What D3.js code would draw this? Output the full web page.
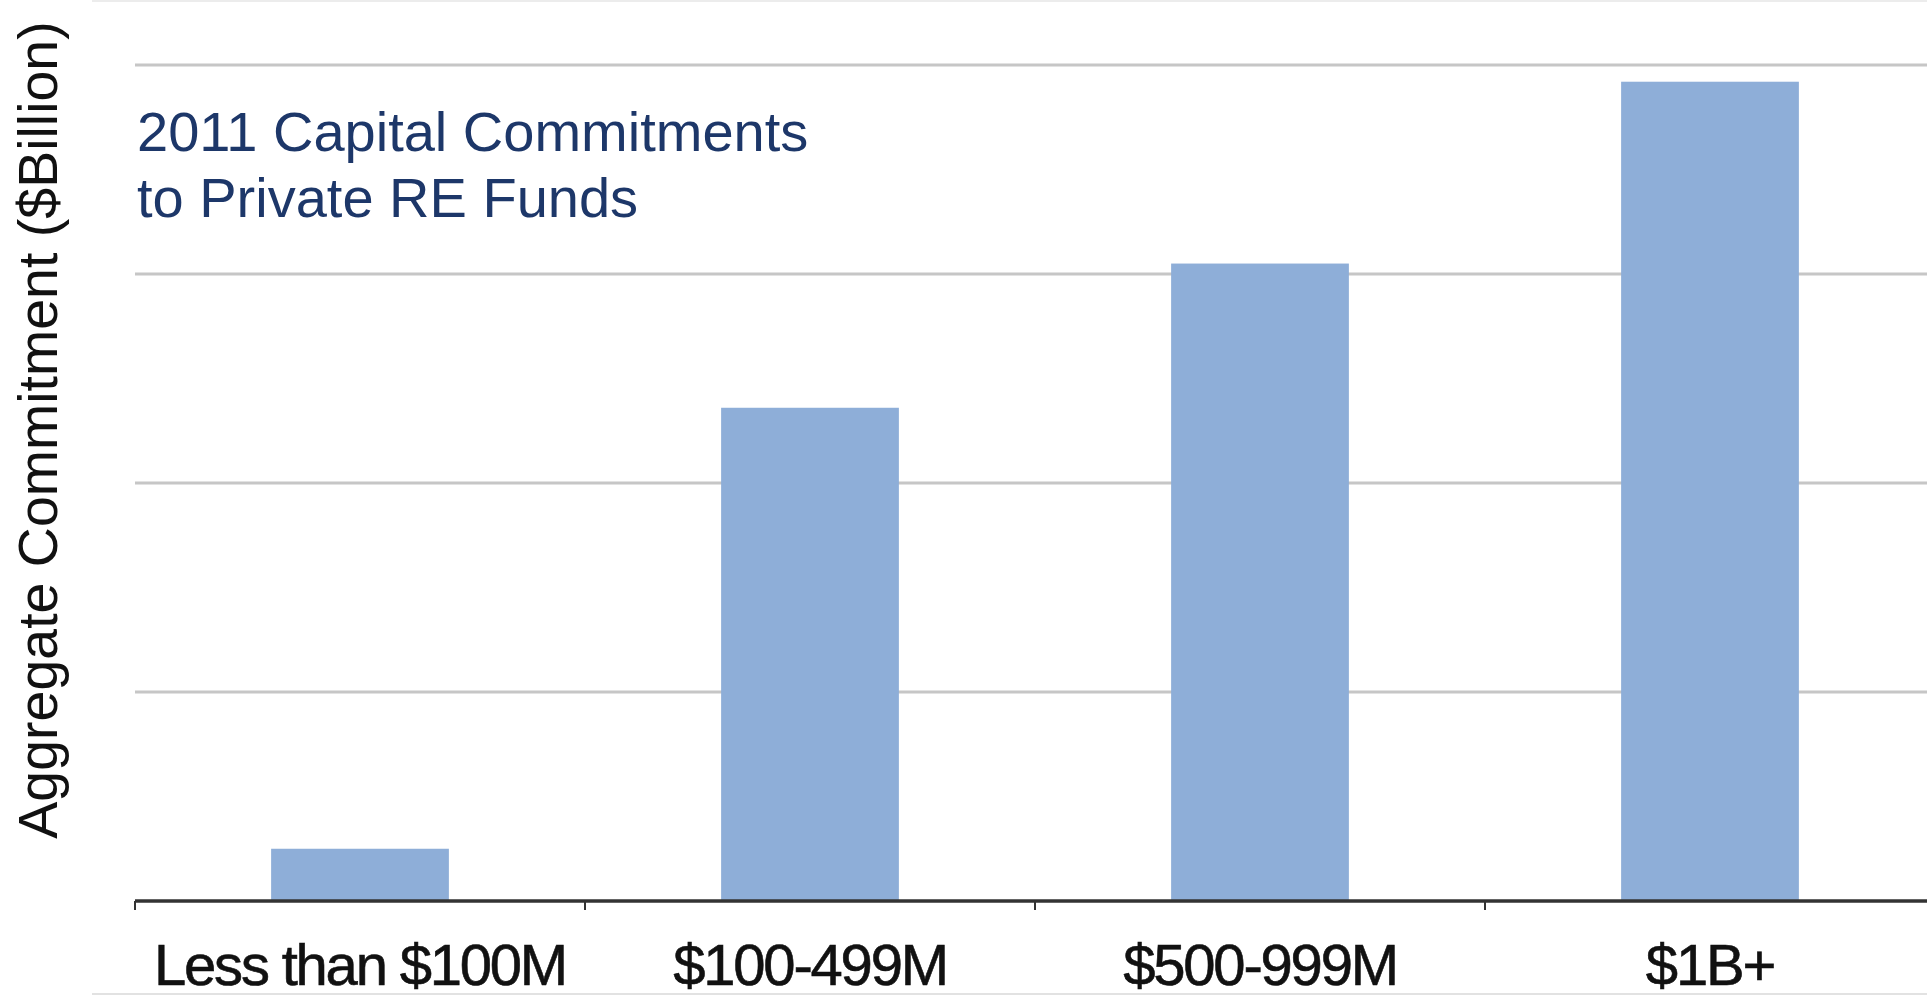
<!DOCTYPE html>
<html>
<head>
    <meta charset="utf-8">
    <title>2011 Capital Commitments</title>
    <script src="https://unpkg.com/d3@7.8.2/dist/d3.min.js"></script>
    <style>
        body { margin: 0; background: #fff; }
        text { font-family: "Liberation Sans", Arial, sans-serif; }
    </style>
</head>
<body>
    <div id="chart"></div>
    <script>
        // fund size buckets and aggregate commitment ($B)
        const categories = ["Less than $100M", "$100-499M", "$500-999M", "$1B+"];
        const commitments = [2.5, 23.6, 30.5, 39.2];
        const gridValues = [10, 20, 30, 40];

        const W = 1927, H = 1004;
        const margin = { top: 65, right: -8, bottom: 103, left: 135 };

        const svg = d3.select("#chart")
            .append("svg")
            .attr("width", W)
            .attr("height", H);

        const x = d3.scaleBand()
            .domain(categories)
            .range([margin.left, W - margin.right]);

        const y = d3.scaleLinear()
            .domain([0, 40])
            .range([H - margin.bottom, margin.top]);

        // faint frame lines at the top and bottom of the picture
        svg.append("line")
            .attr("x1", 92).attr("x2", W)
            .attr("y1", 1).attr("y2", 1)
            .attr("stroke", "#ececec").attr("stroke-width", 2);
        svg.append("line")
            .attr("x1", 92).attr("x2", W)
            .attr("y1", 994).attr("y2", 994)
            .attr("stroke", "#e2e2e2").attr("stroke-width", 2);

        // gridlines
        svg.selectAll(".grid")
            .data(gridValues)
            .enter()
            .append("line")
            .attr("class", "grid")
            .attr("x1", margin.left)
            .attr("x2", W)
            .attr("y1", d => y(d))
            .attr("y2", d => y(d))
            .attr("stroke", "#c6c6c6")
            .attr("stroke-width", 3);

        // bars
        const barW = x.bandwidth() * 0.395;
        svg.selectAll(".bar")
            .data(categories)
            .enter()
            .append("rect")
            .attr("class", "bar")
            .attr("x", d => x(d) + (x.bandwidth() - barW) / 2)
            .attr("y", (d, i) => y(commitments[i]))
            .attr("width", barW)
            .attr("height", (d, i) => y(0) - y(commitments[i]))
            .attr("fill", "#8eaed8");

        // x axis line and ticks at band edges
        svg.append("line")
            .attr("x1", margin.left)
            .attr("x2", W)
            .attr("y1", y(0))
            .attr("y2", y(0))
            .attr("stroke", "#333")
            .attr("stroke-width", 3.5);

        svg.selectAll(".tick")
            .data(categories)
            .enter()
            .append("line")
            .attr("x1", d => x(d))
            .attr("x2", d => x(d))
            .attr("y1", y(0))
            .attr("y2", y(0) + 9)
            .attr("stroke", "#333")
            .attr("stroke-width", 2);

        // category labels
        svg.selectAll(".label")
            .data(categories)
            .enter()
            .append("text")
            .attr("x", d => x(d) + x.bandwidth() / 2)
            .attr("y", 985)
            .attr("text-anchor", "middle")
            .attr("font-size", 58)
            .attr("letter-spacing", -2.2)
            .attr("fill", "#111")
            .attr("stroke", "#111")
            .attr("stroke-width", 0.6)
            .text(d => d);

        // y axis title
        svg.append("text")
            .attr("transform", "translate(57," + 430 + ") rotate(-90)")
            .attr("text-anchor", "middle")
            .attr("font-size", 55.5)
            .attr("fill", "#111")
            .text("Aggregate Commitment ($Billion)");

        // chart title
        const title = svg.append("text")
            .attr("x", 137)
            .attr("y", 151)
            .attr("font-size", 56)
            .attr("fill", "#1d3769");
        title.append("tspan").attr("x", 137).text("2011 Capital Commitments");
        title.append("tspan").attr("x", 137).attr("dy", 66).text("to Private RE Funds");
    </script>
</body>
</html>
